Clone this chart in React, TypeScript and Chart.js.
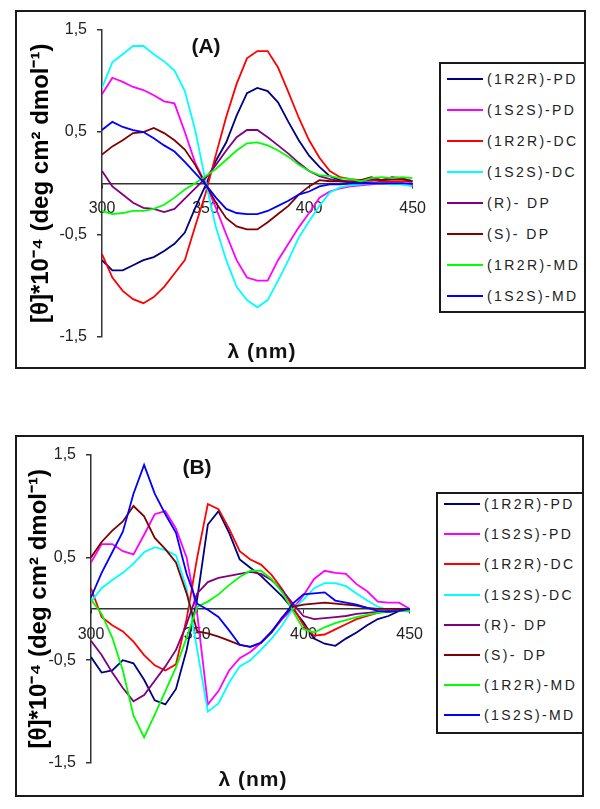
import React, { useEffect, useRef } from 'react';
import { Chart, registerables } from 'chart.js';

Chart.register(...registerables);

// ---------- data ----------
const wavelengths = [300, 305, 310, 315, 320, 325, 330, 335, 340, 345, 350, 355, 360, 365, 370, 375, 380, 385, 390, 395, 400, 405, 410, 415, 420, 425, 430, 435, 440, 445, 450];

const seriesLabels = ['(1R2R)-PD', '(1S2S)-PD', '(1R2R)-DC', '(1S2S)-DC', '(R)- DP', '(S)- DP', '(1R2R)-MD', '(1S2S)-MD'];
const seriesColors = ['#000080', '#ff00ff', '#ff0000', '#00ffff', '#800080', '#800000', '#00ff00', '#0000ff'];

const yTickLabels = ['-1,5', '-0,5', '0,5', '1,5'];
const xTickValues = [300, 350, 400, 450];

// Panel A
const pdRR_A = [-0.75, -0.85, -0.85, -0.80, -0.75, -0.72, -0.66, -0.59, -0.48, -0.24, -0.02, 0.22, 0.40, 0.66, 0.88, 0.93, 0.90, 0.79, 0.60, 0.42, 0.27, 0.16, 0.07, 0.03, 0.01, 0.01, 0.01, 0.00, 0.00, 0.00, -0.02];
const pdSS_A = [0.87, 1.03, 0.99, 0.94, 0.91, 0.86, 0.80, 0.78, 0.50, 0.20, 0.00, -0.24, -0.50, -0.75, -0.92, -0.95, -0.95, -0.75, -0.59, -0.43, -0.29, -0.14, -0.08, -0.05, -0.03, -0.02, -0.01, 0.00, 0.00, -0.01, -0.02];
const dcRR_A = [-0.69, -0.92, -1.05, -1.13, -1.17, -1.11, -1.01, -0.88, -0.75, -0.42, -0.10, 0.28, 0.65, 0.97, 1.22, 1.29, 1.29, 1.13, 0.89, 0.64, 0.42, 0.25, 0.12, 0.06, 0.04, 0.03, 0.03, 0.02, 0.02, 0.02, 0.02];
const dcSS_A = [0.93, 1.18, 1.26, 1.34, 1.34, 1.26, 1.19, 1.10, 0.90, 0.52, 0.02, -0.43, -0.75, -1.01, -1.14, -1.21, -1.14, -0.95, -0.75, -0.53, -0.37, -0.22, -0.09, -0.04, -0.02, -0.01, 0.00, 0.00, -0.01, -0.01, -0.03];
const dpR_A = [0.12, -0.03, -0.11, -0.19, -0.24, -0.25, -0.28, -0.25, -0.15, -0.05, 0.05, 0.18, 0.32, 0.45, 0.52, 0.52, 0.45, 0.37, 0.29, 0.20, 0.12, 0.07, 0.04, 0.02, 0.02, 0.02, 0.04, 0.03, 0.06, 0.05, 0.02];
const dpS_A = [0.28, 0.36, 0.42, 0.49, 0.50, 0.54, 0.49, 0.42, 0.33, 0.18, -0.01, -0.19, -0.34, -0.42, -0.45, -0.45, -0.38, -0.30, -0.22, -0.11, -0.03, 0.03, 0.02, 0.02, 0.01, 0.03, 0.06, 0.03, 0.04, 0.04, 0.02];
const mdRR_A = [-0.27, -0.30, -0.29, -0.27, -0.27, -0.25, -0.21, -0.14, -0.06, 0.00, 0.07, 0.14, 0.23, 0.32, 0.39, 0.40, 0.37, 0.32, 0.26, 0.18, 0.12, 0.08, 0.07, 0.05, 0.04, 0.02, 0.05, 0.06, 0.05, 0.06, 0.05];
const mdSS_A = [0.52, 0.60, 0.55, 0.52, 0.50, 0.44, 0.37, 0.31, 0.21, 0.10, -0.01, -0.14, -0.25, -0.29, -0.30, -0.30, -0.27, -0.22, -0.17, -0.11, -0.08, -0.03, -0.01, -0.01, 0.00, 0.00, 0.00, 0.00, 0.00, 0.00, 0.00];

// Panel B
const pdRR_B = [-0.47, -0.62, -0.60, -0.50, -0.53, -0.69, -0.89, -0.93, -0.78, -0.40, 0.10, 0.82, 0.95, 0.74, 0.48, 0.40, 0.32, 0.22, 0.12, 0.00, -0.13, -0.29, -0.34, -0.36, -0.29, -0.23, -0.16, -0.10, -0.07, -0.02, 0.00];
const pdSS_B = [0.45, 0.63, 0.63, 0.56, 0.53, 0.72, 0.92, 0.95, 0.78, 0.50, -0.05, -0.93, -0.80, -0.60, -0.48, -0.42, -0.33, -0.23, -0.10, 0.00, 0.13, 0.29, 0.37, 0.35, 0.34, 0.24, 0.17, 0.07, 0.06, 0.06, 0.00];
const dcRR_B = [0.20, -0.08, -0.16, -0.22, -0.32, -0.45, -0.55, -0.60, -0.54, -0.10, 0.50, 1.02, 0.97, 0.78, 0.56, 0.48, 0.43, 0.33, 0.19, 0.02, -0.16, -0.26, -0.25, -0.20, -0.15, -0.10, -0.07, -0.04, -0.02, -0.02, -0.02];
const dcSS_B = [0.07, 0.20, 0.28, 0.35, 0.44, 0.55, 0.60, 0.57, 0.52, 0.20, -0.40, -1.00, -0.92, -0.72, -0.56, -0.50, -0.40, -0.29, -0.16, 0.00, 0.09, 0.20, 0.25, 0.25, 0.22, 0.15, 0.08, 0.02, -0.01, -0.01, -0.03];
const dpR_B = [-0.31, -0.45, -0.62, -0.77, -0.90, -0.84, -0.70, -0.56, -0.40, -0.15, 0.15, 0.26, 0.30, 0.32, 0.34, 0.36, 0.34, 0.28, 0.18, 0.05, -0.07, -0.10, -0.09, -0.08, -0.07, -0.05, -0.04, -0.03, -0.02, -0.01, 0.00];
const dpS_B = [0.50, 0.65, 0.76, 0.85, 1.00, 0.90, 0.69, 0.58, 0.45, 0.15, -0.22, -0.24, -0.27, -0.31, -0.35, -0.37, -0.33, -0.23, -0.08, 0.02, 0.04, 0.05, 0.06, 0.05, 0.04, 0.03, 0.01, 0.00, 0.00, 0.00, 0.00];
const mdRR_B = [0.09, -0.05, -0.28, -0.60, -1.04, -1.25, -1.03, -0.80, -0.57, -0.28, 0.02, 0.07, 0.14, 0.23, 0.31, 0.37, 0.37, 0.29, 0.16, -0.02, -0.20, -0.23, -0.18, -0.14, -0.11, -0.08, -0.06, -0.04, -0.03, -0.02, -0.02];
const mdSS_B = [0.11, 0.35, 0.55, 0.75, 1.12, 1.40, 1.12, 0.92, 0.74, 0.34, 0.05, -0.01, -0.08, -0.21, -0.35, -0.37, -0.33, -0.22, -0.09, 0.05, 0.14, 0.15, 0.16, 0.08, 0.06, 0.04, 0.01, -0.02, -0.03, -0.02, 0.00];

const panelAValues = [pdRR_A, pdSS_A, dcRR_A, dcSS_A, dpR_A, dpS_A, mdRR_A, mdSS_A];
const panelBValues = [pdRR_B, pdSS_B, dcRR_B, dcSS_B, dpR_B, dpS_B, mdRR_B, mdSS_B];

const yTitle = '[θ]*10⁻⁴ (deg cm² dmol⁻¹)';
const xTitle = 'λ (nm)';

// ---------- layout ----------
const FONT = "'Liberation Sans', Arial, Helvetica, sans-serif";

type Panel = {
  tag: string;
  values: number[][];
  canvas: { left: number; top: number; width: number; height: number };
  axisWidth: number;
  pad: { top: number; bottom: number; right: number };
  titlePad: number;
  frame: { left: number; top: number; width: number; height: number };
  legend: { left: number; top: number; width: number; height: number; first: number; step: number };
  tagPos: { x: number; y: number };
  xTitlePos: { x: number; y: number };
};

const panels: Panel[] = [
  {
    tag: '(A)',
    values: panelAValues,
    canvas: { left: 15, top: 10, width: 423, height: 359 },
    axisWidth: 87,
    pad: { top: 17, bottom: 32, right: 14 },
    titlePad: 12,
    frame: { left: 15, top: 10, width: 571, height: 359 },
    legend: { left: 439, top: 62, width: 147, height: 251, first: 17, step: 31 },
    tagPos: { x: 206, y: 45 },
    xTitlePos: { x: 262, y: 350 },
  },
  {
    tag: '(B)',
    values: panelBValues,
    canvas: { left: 15, top: 435, width: 420, height: 362 },
    axisWidth: 76,
    pad: { top: 18, bottom: 34, right: 14 },
    titlePad: 10,
    frame: { left: 15, top: 435, width: 569, height: 362 },
    legend: { left: 436, top: 492, width: 148, height: 242, first: 12, step: 30.2 },
    tagPos: { x: 197, y: 466 },
    xTitlePos: { x: 253, y: 778 },
  },
];

function buildChart(canvas: HTMLCanvasElement, p: Panel) {
  const n = seriesLabels.length;
  return new Chart(canvas, {
    type: 'line',
    data: {
      datasets: seriesLabels.map((label, i) => ({
        label,
        data: wavelengths.map((x, j) => ({ x, y: p.values[i][j] })),
        borderColor: seriesColors[i],
        backgroundColor: seriesColors[i],
        borderWidth: 1.8,
        pointRadius: 0,
        tension: 0,
        fill: false,
        order: n - i,
      })),
    },
    options: {
      animation: false,
      responsive: false,
      maintainAspectRatio: false,
      events: [],
      layout: { padding: { left: 0, right: p.pad.right, top: p.pad.top, bottom: p.pad.bottom } },
      plugins: { legend: { display: false }, tooltip: { enabled: false }, title: { display: false } },
      scales: {
        x: {
          type: 'linear',
          min: 300,
          max: 450,
          position: { y: 0 } as any,
          afterBuildTicks: (scale: any) => {
            scale.ticks = xTickValues.map((v) => ({ value: v }));
          },
          ticks: {
            autoSkip: false,
            maxRotation: 0,
            padding: 12,
            color: '#222',
            font: { family: FONT, size: 16 },
            callback: (v: any) => String(v),
          },
          grid: { display: true, drawOnChartArea: false, drawTicks: true, tickLength: 4, color: '#333', lineWidth: 1 },
          border: { display: true, color: '#333', width: 1.5 },
        },
        y: {
          type: 'linear',
          min: -1.5,
          max: 1.5,
          position: 'left',
          ticks: {
            stepSize: 1,
            autoSkip: false,
            padding: 10,
            color: '#222',
            font: { family: FONT, size: 16 },
            callback: (_v: any, i: number) => yTickLabels[i],
          },
          grid: { display: true, drawOnChartArea: false, drawTicks: true, tickLength: 5, color: '#333', lineWidth: 1.5 },
          border: { display: true, color: '#333', width: 1.5 },
          title: {
            display: true,
            text: yTitle,
            color: '#000',
            font: { family: FONT, size: 24, weight: 'bold' },
            padding: { top: p.titlePad, bottom: 0 },
          },
          afterFit: (scale: any) => {
            scale.width = p.axisWidth;
          },
        },
      },
    },
  } as any);
}

function PanelView({ p }: { p: Panel }) {
  const ref = useRef<HTMLCanvasElement | null>(null);
  useEffect(() => {
    if (!ref.current) return;
    const chart = buildChart(ref.current, p);
    return () => chart.destroy();
  }, [p]);

  return (
    <>
      <div
        style={{
          position: 'absolute',
          left: p.frame.left,
          top: p.frame.top,
          width: p.frame.width,
          height: p.frame.height,
          border: '2px solid #1a1a1a',
          boxSizing: 'border-box',
        }}
      />
      <canvas
        ref={ref}
        width={p.canvas.width}
        height={p.canvas.height}
        style={{
          position: 'absolute',
          left: p.canvas.left,
          top: p.canvas.top,
          width: p.canvas.width,
          height: p.canvas.height,
        }}
      />
      <div
        style={{
          position: 'absolute',
          left: p.tagPos.x,
          top: p.tagPos.y,
          transform: 'translate(-50%, -50%)',
          font: `bold 21px ${FONT}`,
          lineHeight: 1,
          color: '#111',
          whiteSpace: 'nowrap',
        }}
      >
        {p.tag}
      </div>
      <div
        style={{
          position: 'absolute',
          left: p.xTitlePos.x,
          top: p.xTitlePos.y,
          transform: 'translate(-50%, -50%)',
          font: `bold 21px ${FONT}`,
          letterSpacing: '1px',
          lineHeight: 1,
          color: '#111',
          whiteSpace: 'nowrap',
        }}
      >
        {xTitle}
      </div>
      <div
        style={{
          position: 'absolute',
          left: p.legend.left,
          top: p.legend.top,
          width: p.legend.width,
          height: p.legend.height,
          border: '2px solid #1a1a1a',
          boxSizing: 'border-box',
          background: '#fff',
          overflow: 'hidden',
        }}
      >
        {seriesLabels.map((label, i) => {
          const cy = p.legend.first + i * p.legend.step - 2;
          return (
            <div key={label}>
              <div
                style={{
                  position: 'absolute',
                  left: 6,
                  top: cy - 1,
                  width: 36,
                  height: 2,
                  background: seriesColors[i],
                }}
              />
              <div
                style={{
                  position: 'absolute',
                  left: 46,
                  top: cy - 8,
                  font: `14px ${FONT}`,
                  letterSpacing: '2.4px',
                  lineHeight: '16px',
                  color: '#222',
                  whiteSpace: 'nowrap',
                }}
              >
                {label}
              </div>
            </div>
          );
        })}
      </div>
    </>
  );
}

export default function App() {
  return (
    <div style={{ position: 'absolute', left: 0, top: 0, width: 600, height: 809, background: '#fff', overflow: 'hidden' }}>
      {panels.map((p) => (
        <PanelView key={p.tag} p={p} />
      ))}
    </div>
  );
}
